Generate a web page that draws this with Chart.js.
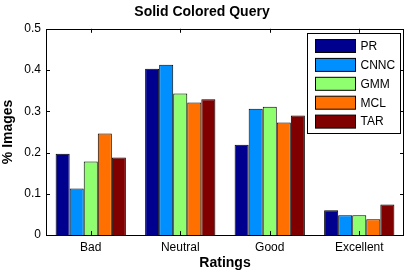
<!DOCTYPE html>
<html>
<head>
<meta charset="utf-8">
<script src="https://cdn.jsdelivr.net/npm/chart.js@4"></script>
<style>
  html, body { margin: 0; padding: 0; background: #fff; }
  #wrap { width: 407px; height: 274px; }
</style>
</head>
<body>
<div id="wrap"><canvas id="chart" width="407" height="274"></canvas></div>
<script>
// data
var ratings = ['Bad', 'Neutral', 'Good', 'Excellent'];
var methods = ['PR', 'CNNC', 'GMM', 'MCL', 'TAR'];
var pr   = [0.197, 0.403, 0.219, 0.060];
var cnnc = [0.113, 0.413, 0.306, 0.048];
var gmm  = [0.178, 0.343, 0.311, 0.048];
var mcl  = [0.246, 0.321, 0.273, 0.038];
var tar  = [0.188, 0.329, 0.290, 0.074];
var colors = ['#00008f', '#008fff', '#8fff70', '#ff7000', '#800000'];

var series = [pr, cnnc, gmm, mcl, tar];
var font = "'Liberation Sans', Arial, sans-serif";

// box, inward ticks and legend in the matlab style
var boxPlugin = {
  id: 'box',
  afterDraw: function(chart) {
    var c = chart.ctx, a = chart.chartArea;
    var xs = chart.scales.x, ys = chart.scales.y;
    c.save();
    c.strokeStyle = '#000';
    c.lineWidth = 1;
    c.strokeRect(Math.round(a.left) + 0.5, Math.round(a.top) + 0.5,
                 Math.round(a.right - a.left) - 1, Math.round(a.bottom - a.top));
    c.beginPath();
    xs.ticks.forEach(function(t, i) {
      var px = Math.round(xs.getPixelForTick(i)) + 0.5;
      c.moveTo(px, a.bottom); c.lineTo(px, a.bottom - 4);
      c.moveTo(px, a.top); c.lineTo(px, a.top + 4);
    });
    ys.ticks.forEach(function(t) {
      var py = Math.round(ys.getPixelForValue(t.value)) + 0.5;
      c.moveTo(a.left, py); c.lineTo(a.left + 4, py);
      c.moveTo(a.right, py); c.lineTo(a.right - 4, py);
    });
    c.stroke();

    // legend
    var ds = chart.data.datasets;
    var bw = 93, bh = 100;
    var bx = Math.round(a.right) - 96.5, by = Math.round(a.top) + 4.5;
    c.fillStyle = '#fff';
    c.fillRect(bx, by, bw, bh);
    c.strokeRect(bx, by, bw, bh);
    c.font = '12px ' + font;
    c.textBaseline = 'middle';
    ds.forEach(function(d, i) {
      var y = by + 6 + i * 18.9;
      c.fillStyle = d.backgroundColor;
      c.fillRect(bx + 8, y, 40, 13);
      c.strokeRect(bx + 8, y, 40, 13);
      c.fillStyle = '#000';
      c.fillText(d.label, bx + 53, y + 7);
    });
    c.restore();
  }
};

new Chart(document.getElementById('chart'), {
  type: 'bar',
  data: {
    labels: ratings,
    datasets: methods.map(function(m, i) {
      return {
        label: m,
        data: series[i],
        backgroundColor: colors[i],
        borderColor: '#000',
        borderWidth: 1,
        barPercentage: 1,
        categoryPercentage: 0.785
      };
    })
  },
  options: {
    responsive: false,
    animation: false,
    layout: { padding: { left: 0, right: 3, top: 0, bottom: 0 } },
    plugins: {
      legend: { display: false },
      tooltip: { enabled: false },
      title: {
        display: true,
        text: 'Solid Colored Query',
        color: '#000',
        font: { family: font, size: 14, weight: 'bold' },
        padding: { top: 4, bottom: 8 }
      }
    },
    scales: {
      x: {
        grid: { display: false, drawTicks: false },
        border: { display: false },
        ticks: { color: '#000', font: { family: font, size: 12 }, padding: 5 },
        title: {
          display: true, text: 'Ratings', color: '#000',
          font: { family: font, size: 14, weight: 'bold' },
          padding: { top: 0, bottom: 2 }
        },
        afterFit: function(s) { s.height = 39; }
      },
      y: {
        min: 0, max: 0.5,
        grid: { display: false, drawTicks: false },
        border: { display: false },
        ticks: { stepSize: 0.1, color: '#000', font: { family: font, size: 12 }, padding: 5 },
        title: {
          display: true, text: '% Images', color: '#000',
          font: { family: font, size: 14, weight: 'bold' },
          padding: 0
        },
        afterFit: function(s) { s.width = 46; }
      }
    }
  },
  plugins: [boxPlugin]
});
</script>
</body>
</html>
